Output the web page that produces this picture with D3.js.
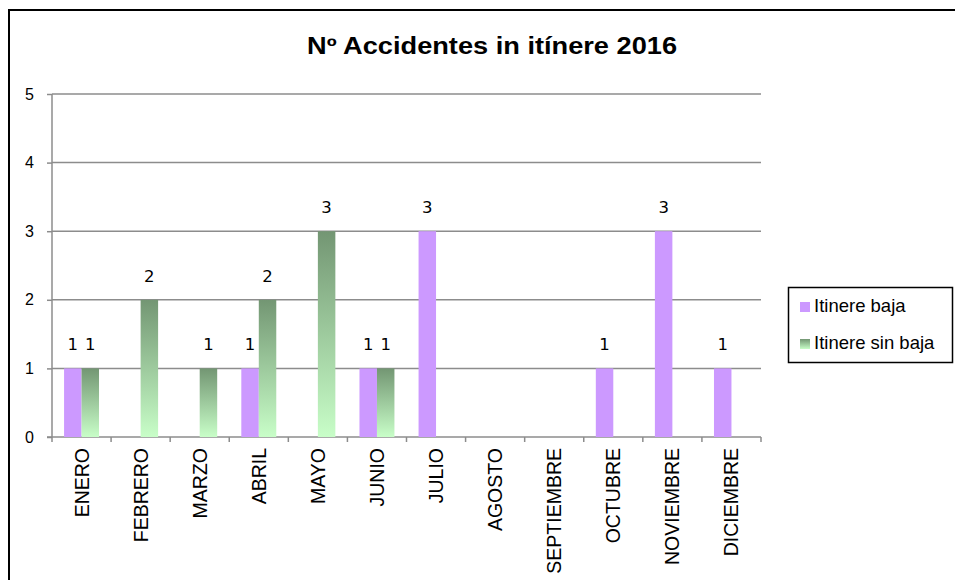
<!DOCTYPE html>
<html>
<head>
<meta charset="utf-8">
<script src="https://cdn.jsdelivr.net/npm/d3@7"></script>
<style>
  body { margin: 0; background: #fff; }
  svg { display: block; }
</style>
</head>
<body>
<svg id="chart" width="955" height="580"></svg>
<script>
// chart data
var months = ["ENERO", "FEBRERO", "MARZO", "ABRIL", "MAYO", "JUNIO", "JULIO",
              "AGOSTO", "SEPTIEMBRE", "OCTUBRE", "NOVIEMBRE", "DICIEMBRE"];
var conBaja = [1, 0, 0, 1, 0, 1, 3, 0, 0, 1, 3, 1];
var sinBaja = [1, 2, 1, 2, 3, 1, 0, 0, 0, 0, 0, 0];
var seriesNames = ["Itinere baja", "Itinere sin baja"];
var yTicks = [0, 1, 2, 3, 4, 5];

var svg = d3.select("#chart");
var plotLeft = 52, plotRight = 761, plotTop = 94, plotBottom = 437;
var gray = "#8c8c8c";

// gradient for the green series (per bar)
var defs = svg.append("defs");
var grad = defs.append("linearGradient")
    .attr("id", "greenGrad")
    .attr("x1", 0).attr("y1", 0).attr("x2", 0).attr("y2", 1);
grad.append("stop").attr("offset", "0%").attr("stop-color", "#739673");
grad.append("stop").attr("offset", "100%").attr("stop-color", "#c8fec8");

// outer border
svg.append("rect")
    .attr("x", 9).attr("y", 10)
    .attr("width", 1000).attr("height", 1000)
    .attr("fill", "none")
    .attr("stroke", "#000")
    .attr("stroke-width", 2);

// title
svg.append("text")
    .attr("x", 307).attr("y", 54)
    .attr("textLength", 370)
    .attr("lengthAdjust", "spacingAndGlyphs")
    .style("font-family", "Liberation Sans, Arial, sans-serif")
    .style("font-weight", "bold")
    .style("font-size", "23px")
    .text("Nº Accidentes in itínere 2016");

var x = d3.scaleBand().domain(months).range([plotLeft, plotRight]);
var sub = d3.scaleBand().domain([0, 1]).range([0, x.bandwidth()]).paddingInner(0).paddingOuter(0.69);
var y = d3.scaleLinear().domain([0, 5]).range([plotBottom, plotTop]);

// gridlines
svg.append("g")
    .selectAll("line")
    .data(yTicks.filter(function(d) { return d > 0; }))
    .join("line")
    .attr("x1", plotLeft).attr("x2", plotRight)
    .attr("y1", function(d) { return y(d); })
    .attr("y2", function(d) { return y(d); })
    .attr("stroke", gray)
    .attr("stroke-width", 1.5);

// y axis
var yAxis = svg.append("g")
    .attr("transform", "translate(" + plotLeft + ",0)")
    .call(d3.axisLeft(y).tickValues(yTicks).tickSize(5).tickPadding(13).tickFormat(d3.format("d")));
yAxis.select(".domain").attr("stroke", gray).attr("stroke-width", 1.5).attr("d", "M0," + plotBottom + "V" + plotTop);
yAxis.selectAll(".tick line").attr("stroke", gray).attr("stroke-width", 1.5);
yAxis.selectAll(".tick text")
    .style("font-family", "Liberation Sans, Arial, sans-serif")
    .style("font-size", "16px")
    .attr("fill", "#000");

// x axis
var xAxis = svg.append("g")
    .attr("transform", "translate(0," + plotBottom + ")")
    .call(d3.axisBottom(x).tickSize(0));
xAxis.select(".domain").remove();
xAxis.selectAll(".tick text")
    .attr("transform", "rotate(-90)")
    .attr("x", -11).attr("y", 0).attr("dy", "0.36em")
    .attr("text-anchor", "end")
    .style("font-family", "Liberation Sans, Arial, sans-serif")
    .style("font-size", "19.5px")
    .attr("fill", "#000");

svg.append("line")
    .attr("x1", plotLeft - 5).attr("x2", plotRight)
    .attr("y1", plotBottom).attr("y2", plotBottom)
    .attr("stroke", gray).attr("stroke-width", 1.5);
svg.append("g")
    .selectAll("line")
    .data(months.concat(["end"]))
    .join("line")
    .attr("x1", function(d, i) { return plotLeft + i * x.step(); })
    .attr("x2", function(d, i) { return plotLeft + i * x.step(); })
    .attr("y1", plotBottom).attr("y2", plotBottom + 5)
    .attr("stroke", gray).attr("stroke-width", 1.5);

// bars
var series = [
  { name: seriesNames[0], values: conBaja, fill: "#cc99ff", idx: 0 },
  { name: seriesNames[1], values: sinBaja, fill: "url(#greenGrad)", idx: 1 }
];

series.forEach(function(s) {
  var g = svg.append("g");
  var data = months.map(function(m, i) { return { m: m, v: s.values[i] }; })
    .filter(function(d) { return d.v > 0; });
  g.selectAll("rect")
    .data(data)
    .join("rect")
    .attr("x", function(d) { return x(d.m) + sub(s.idx); })
    .attr("width", sub.bandwidth())
    .attr("y", function(d) { return y(d.v); })
    .attr("height", function(d) { return y(0) - y(d.v); })
    .attr("fill", s.fill);
  g.selectAll("text")
    .data(data)
    .join("text")
    .attr("x", function(d) { return x(d.m) + sub(s.idx) + sub.bandwidth() / 2; })
    .attr("y", function(d) { return y(d.v) - 18; })
    .attr("text-anchor", "middle")
    .style("font-family", "DejaVu Sans, sans-serif")
    .style("font-size", "16.5px")
    .text(function(d) { return d.v; });
});

// legend
var legend = svg.append("g");
legend.append("rect")
    .attr("x", 788.5).attr("y", 287.5)
    .attr("width", 164).attr("height", 75)
    .attr("fill", "#fff").attr("stroke", "#000").attr("stroke-width", 1.5);
series.forEach(function(s, i) {
  legend.append("rect")
    .attr("x", 800).attr("y", 302 + i * 37)
    .attr("width", 10).attr("height", 10)
    .attr("fill", s.fill);
  legend.append("text")
    .attr("x", 814).attr("y", 312 + i * 37)
    .style("font-family", "Liberation Sans, Arial, sans-serif")
    .style("font-size", "18.5px")
    .text(s.name);
});
</script>
</body>
</html>
